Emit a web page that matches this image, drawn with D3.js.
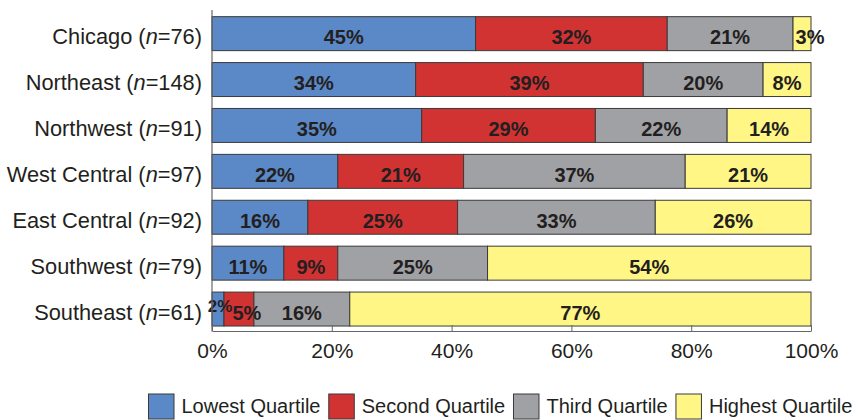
<!DOCTYPE html>
<html>
<head>
<meta charset="utf-8">
<script src="https://cdn.jsdelivr.net/npm/d3@7"></script>
<style>
  html, body { margin: 0; padding: 0; background: #fff; }
  svg { display: block; font-family: "Liberation Sans", Arial, sans-serif; }
</style>
</head>
<body>
<svg id="chart" width="853" height="420"></svg>
<script>
// ---- data ----
const categories = ["Chicago", "Northeast", "Northwest", "West Central", "East Central", "Southwest", "Southeast"];
const sampleSizes = [76, 148, 91, 97, 92, 79, 61];
const seriesNames = ["Lowest Quartile", "Second Quartile", "Third Quartile", "Highest Quartile"];
// segment widths (percent) as drawn
const lowest  = [44, 34, 35, 21, 16, 12, 2];
const second  = [32, 38, 29, 21, 25, 9, 5];
const third   = [21, 20, 22, 37, 33, 25, 16];
const highest = [3, 8, 14, 21, 26, 54, 77];
// printed labels (percent)
const lowestLabels  = [45, 34, 35, 22, 16, 11, 2];
const secondLabels  = [32, 39, 29, 21, 25, 9, 5];
const thirdLabels   = [21, 20, 22, 37, 33, 25, 16];
const highestLabels = [3, 8, 14, 21, 26, 54, 77];
const xTicks = [0, 20, 40, 60, 80, 100];
const colors = ["#5b88c6", "#d13333", "#a0a1a5", "#fff685"];

// ---- build ----
const values = [lowest, second, third, highest];
const labels = [lowestLabels, secondLabels, thirdLabels, highestLabels];
const rows = categories.map((c, i) => {
  const r = { cat: c, n: sampleSizes[i] };
  seriesNames.forEach((s, k) => { r[s] = values[k][i]; });
  return r;
});
const stacked = d3.stack().keys(seriesNames)(rows);

const svg = d3.select("#chart");
const x = d3.scaleLinear().domain([0, 100]).range([212, 811]);
const y = d3.scaleBand().domain(categories).range([10.7, 332]).paddingInner(0.26).paddingOuter(0.13);
const textColor = "#231f20";

// bars
stacked.forEach((layer, k) => {
  const g = svg.append("g");
  g.selectAll("rect").data(layer).join("rect")
    .attr("x", d => x(d[0]))
    .attr("y", d => y(d.data.cat))
    .attr("width", d => x(d[1]) - x(d[0]))
    .attr("height", y.bandwidth())
    .attr("fill", colors[k])
    .attr("stroke", "#3a3a3a")
    .attr("stroke-width", 1);
});
// bar labels
stacked.forEach((layer, k) => {
  svg.append("g").selectAll("text").data(layer).join("text")
    .attr("x", d => {
      const v = d[1] - d[0];
      let cx = (x(d[0]) + x(d[1])) / 2;
      if (v < 3) cx += 2; else if (v < 6) cx += 8;
      return cx;
    })
    .attr("y", d => {
      const v = d[1] - d[0];
      let cy = y(d.data.cat) + y.bandwidth() / 2 + 10.5;
      if (v < 3) cy -= 8;
      return cy;
    })
    .attr("text-anchor", "middle")
    .attr("font-weight", "bold")
    .attr("font-size", (d) => (d[1] - d[0]) < 3 ? 17 : 20)
    .attr("fill", textColor)
    .text((d, i) => labels[k][i] + "%");
});

// category labels
const cl = svg.append("g").selectAll("text").data(rows).join("text")
  .attr("x", 202)
  .attr("y", d => y(d.cat) + y.bandwidth() / 2 + 10.5)
  .attr("text-anchor", "end")
  .attr("font-size", 21.8)
  .attr("fill", textColor);
cl.append("tspan").text(d => d.cat + " (");
cl.append("tspan").attr("font-style", "italic").text("n");
cl.append("tspan").text(d => "=" + d.n + ")");

// axes
const axisColor = "#666";
svg.append("line").attr("x1", 212).attr("x2", 212).attr("y1", 10).attr("y2", 331.5)
  .attr("stroke", axisColor).attr("stroke-width", 1.2);
const xAxis = svg.append("g").attr("transform", "translate(0,331)")
  .call(d3.axisBottom(x).tickValues(xTicks).tickSize(-6).tickSizeOuter(0).tickFormat(d => d + "%"));
xAxis.select(".domain").attr("stroke", axisColor).attr("stroke-width", 1.2);
xAxis.selectAll(".tick line").attr("stroke", axisColor);
xAxis.selectAll(".tick text")
  .attr("font-size", 21)
  .attr("font-family", "Liberation Sans, Arial, sans-serif")
  .attr("fill", textColor)
  .attr("y", 27)
  .attr("dy", 0);

// legend
const legend = svg.append("g");
let lx = 148.5;
seriesNames.forEach((s, k) => {
  legend.append("rect").attr("x", lx).attr("y", 394).attr("width", 25.5).attr("height", 25)
    .attr("fill", colors[k]).attr("stroke", "#3a3a3a").attr("stroke-width", 1);
  const t = legend.append("text").attr("x", lx + 33).attr("y", 413)
    .attr("font-size", 20).attr("fill", textColor).text(s);
  lx = lx + 33 + t.node().getComputedTextLength() + 8.3;
});
</script>
</body>
</html>
